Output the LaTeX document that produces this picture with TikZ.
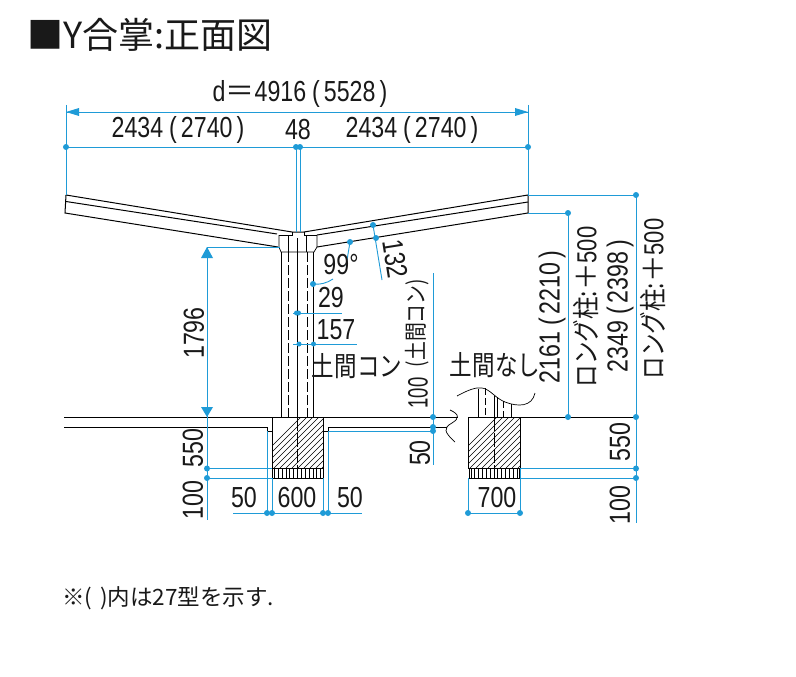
\documentclass[tikz,border=0pt]{standalone}
\usepackage{fontspec}
\setmainfont{Liberation Sans}
\newfontfamily\numf[FakeStretch=0.8]{Liberation Sans}
\newfontfamily\numn[FakeStretch=0.66]{Liberation Sans}
\newfontfamily\jpn{Noto Sans CJK JP}
\newfontfamily\jpc[FakeStretch=0.82]{Noto Sans CJK JP}
\definecolor{dimblue}{HTML}{1F9BD7}
\tikzset{
  dim/.style={draw=dimblue,line width=0.9pt},
  part/.style={draw=black,line width=1pt},
  thin part/.style={draw=black,line width=0.7pt},
  dots/.style={fill=dimblue,draw=none,circle,minimum size=6pt,inner sep=0pt},
  lbl/.style={inner sep=0pt,font=\numf\fontsize{29}{29}\selectfont,text=black!90},
  lblv/.style={lbl,rotate=90},
  jp/.style={inner sep=0pt,font=\jpc\fontsize{27.5}{27.5}\selectfont,text=black!90},
  jpv/.style={jp,rotate=90},
  arrowtri/.style={fill=dimblue,draw=none}
}
\newcommand{\pl}[1]{\hspace{6pt}(\hspace{4pt}#1\hspace{4pt})}
\begin{document}
\begin{tikzpicture}[x=1pt,y=-1pt]
\useasboundingbox (0,0) rectangle (796,677);
\fill[white] (0,0) rectangle (796,677);
% coordinates
\foreach \n/\x/\y in {dl/66/112,dr/528/112,el/66/195,er/528/195,rl/66/147,rr/528/147,c1/296/147,c2/300/147,c1b/296/232,c2b/300/232,
 al/207/247,ab/207/417,abe/207/520,atr/280/247,d1/207/468.5,d2/207/478,d1r/272/468.5,d2r/272/478,
 t29a/293/313,t29b/342/313,t157a/293/344,t157b/357/344,
 bl/233/513,br/362/513,b1/267/513,b2/272/513,b3/323/513,b4/328/513,b1t/267/431,b2t/272/417,b3t/323/417,b4t/328/431,
 vt/433/273,vb/433/465,g1/433/417,g2/433/431,r1/520/468.5,r2/520/478,
 s1/636/468.5,s2/636/478,st/636/195,sb/636/523,sg/636/417,m1/568/213,m2/568/417,mr/528/213,gr/528/417,
 p1/468/513,p2/520/513,p1t/468/478,p2t/520/468.5,
 ang1/350/242,ang2/313/284,ang1e/346/266,ang2e/333/279,k1/373/225,k2/376/238,k3/382/280}{\coordinate (\n) at (\x,\y);}
% ---- structure
\draw[part] (66,195) -- (292,232) -- (304,232) -- (528,195) -- (528,213) -- (317,247);
\draw[part] (66,201.5) -- (277,234);
\draw[part] (317,235) -- (528,202);
\draw[part] (66,195) -- (65,213) -- (278,247);
% bracket
\draw[thin part] (279,235) -- (279,247) -- (281,252) -- (314,252) -- (317,247) -- (317,235);
\draw[thin part] (279,235) -- (292,235) -- (292,232);
\draw[thin part] (304,232) -- (304,235) -- (317,235);
\draw[thin part] (288,235) -- (288,252);
\draw[thin part] (306,235) -- (306,252);
% column
\draw[thin part] (281,252) -- (281,417);
\draw[thin part] (313.5,252) -- (313.5,417);
\draw[thin part,dash pattern=on 10pt off 3pt] (288,252) -- (288,417);
\draw[thin part,dash pattern=on 10pt off 3pt] (307,252) -- (307,417);
\draw[black,line width=1.8pt] (297.5,238) -- (297.5,417);
% ground
\draw[part] (64,417) -- (458,417);
\draw[part] (64,427) -- (267,427);
\draw[part] (328,427) -- (447,427);
\draw[part] (468,417) -- (636,417);
% break line
\draw[thin part] (450,410) .. controls (459,414) and (460,418) .. (452,423) .. controls (443,428) and (444,432) .. (455,442);
% foundation left
\begin{scope}
\clip (272,417) rectangle (323,468);
\foreach \i in {0,6,...,110}{\draw[black,line width=0.4pt] (250+\i,468) -- ++(60,-60);}
\end{scope}
\draw[part] (272,417) -- (272,478) -- (323,478) -- (323,417);
\draw[part] (272,468) -- (323,468);
\draw[thin part] (267,427) -- (267,431) -- (272,431);
\draw[thin part] (328,427) -- (328,431) -- (323,431);
\draw[thin part,dash pattern=on 14pt off 2pt] (297.5,417) -- (297.5,480);
\foreach \i in {0,1,...,12}{\draw[black,line width=1pt] (274.5+\i*3.85,469) -- ++(0,9);}
% foundation right
\begin{scope}
\clip (468,417) rectangle (520,468);
\foreach \i in {0,6,...,110}{\draw[black,line width=0.4pt] (446+\i,468) -- ++(60,-60);}
\end{scope}
\draw[part] (468,417) -- (468,468) -- (520,468) -- (520,417);
\draw[part] (469.5,468) -- (469.5,478) -- (519,478) -- (519,468);
\draw[thin part,dash pattern=on 14pt off 2pt] (494.5,417) -- (494.5,478);
\foreach \i in {0,1,...,12}{\draw[black,line width=1pt] (471+\i*3.85,469) -- ++(0,9);}
% stub column, cut by a curved line
\draw[thin part] (457,396) .. controls (468,390) and (476,387) .. (482,388) .. controls (490,389) and (495,398) .. (505,402) .. controls (518,407) and (532,407) .. (535,393);
\draw[thin part] (478,389) -- (478,417);
\draw[thin part,dash pattern=on 7pt off 3pt] (485,388) -- (485,417);
\draw[black,line width=1.5pt] (494.5,396) -- (494.5,417);
\draw[thin part] (497,397) -- (497,417);
\draw[thin part,dash pattern=on 7pt off 3pt] (503,401) -- (503,417);
\draw[thin part] (511,404) -- (511,417);
% ---- dimensions
\draw[dim] (dl) -- (dr);
\draw[dim] (66,105) -- (el);
\draw[dim] (528,105) -- (er);
\draw[dim] (rl) -- (rr);
\draw[dim] (c1) -- (c1b);
\draw[dim] (c2) -- (c2b);
\fill[arrowtri] (66,112) -- (79,108) -- (79,116) -- cycle;
\fill[arrowtri] (528,112) -- (515,108) -- (515,116) -- cycle;
\foreach \c in {rl,c1,c2,rr}{\node[dots] at (\c) {};}
\draw[dim] (al) -- (abe);
\draw[dim] (al) -- (atr);
\fill[arrowtri] (207,247) -- (201,258) -- (213,258) -- cycle;
\fill[arrowtri] (207,417) -- (201,407) -- (213,407) -- cycle;
\draw[dim] (d1) -- (d1r);
\draw[dim] (d2) -- (d2r);
\node[dots] at (d1) {};
\node[dots] at (d2) {};
\draw[dim] (t29a) -- (t29b);
\node[dots,minimum size=5pt] at (296.5,313) {};
\node[dots,minimum size=5pt] at (298.5,313) {};
\draw[dim] (t157a) -- (t157b);
\node[dots,minimum size=5pt] at (299,344) {};
\node[dots,minimum size=5pt] at (313.5,344) {};
% angle
\draw[dim] (ang1) -- (ang1e);
\draw[dim] (ang2) .. controls (320,285) and (327,283) .. (ang2e);
\node[dots] at (ang1) {};
\node[dots] at (ang2) {};
% 132
\draw[dim] (k1) -- (k3);
\node[dots] at (k1) {};
\node[dots] at (k2) {};
% bottom left
\draw[dim] (bl) -- (br);
\draw[dim] (b1) -- (b1t);
\draw[dim] (b2) -- (272,478);
\draw[dim] (b3) -- (323,478);
\draw[dim] (b4) -- (b4t);
\foreach \c in {b1,b2,b3,b4}{\node[dots] at (\c) {};}
% right of the slab
\draw[dim] (b4t) -- (g2);
\draw[dim] (vt) -- (vb);
\node[dots] at (g1) {};
\node[dots] at (433,427) {};
\node[dots] at (g2) {};
% bottom right
\draw[dim] (p1) -- (p2);
\draw[dim] (p1) -- (p1t);
\draw[dim] (p2) -- (p2t);
\node[dots] at (p1) {};
\node[dots] at (p2) {};
\draw[dim] (r1) -- (s1);
\draw[dim] (r2) -- (s2);
\draw[dim] (er) -- (st);
\draw[dim] (st) -- (sb);
\draw[dim] (mr) -- (m1);
\draw[dim] (m1) -- (m2);
\foreach \c in {st,s1,s2,sg,m1,m2}{\node[dots] at (\c) {};}
% ---- text
\node[anchor=west,inner sep=0pt,font=\jpn\fontsize{36}{36}\selectfont,text=black!90] (title) at (27,35) {■Y合掌:正面図};
\node[lbl] (td) at (300,94) {d{\jpn＝}4916\pl{5528}};
\node[lbl] (ta) at (178,130) {2434\pl{2740}};
\node[lbl] (tm) at (298,130) {48};
\node[lbl] (tb) at (412,130) {2434\pl{2740}};
\node[lblv] (t1796) at (194,333) {1796};
\node[lbl] (t99) at (341,265) {99°};
\node[lbl] (t29) at (331,298) {29};
\node[lbl] (t157) at (336,330) {157};
\node[jp] (tcon) at (357,366) {土間コン};
\node[lbl,rotate=-81] (t132) at (395,259) {132};
\node[jpv,font=\jpc\fontsize{23}{23}\selectfont] (tcon2) at (417,323) {(土間コン)};
\node[lblv,font=\numn\fontsize{28}{28}\selectfont] (t100a) at (418,393) {100};
\node[lblv] (t50a) at (420,453) {50};
\node[lblv] (t550a) at (193,448) {550};
\node[lblv] (t100b) at (193,500) {100};
\node[lbl] (t50l) at (244,498) {50};
\node[lbl] (t600) at (297,498) {600};
\node[lbl] (t50r) at (350,498) {50};
\node[lbl] (t700) at (497,498) {700};
\node[jp] (tnone) at (495,365) {土間なし};
\node[lblv] (t2161) at (552,317) {2161\pl{2210}};
\node[jpv] (tl1) at (586,307) {ロング柱:{\jpn＋}{\numf 500}};
\node[lblv] (t2349) at (620,306) {2349\pl{2398}};
\node[jpv] (tl2) at (653,299) {ロング柱:{\jpn＋}{\numf 500}};
\node[lblv] (t550b) at (620,442) {550};
\node[lblv] (t100c) at (620,505) {100};
\node[anchor=west,inner sep=0pt,font=\jpn\fontsize{22.5}{22.5}\selectfont,text=black!90] (note) at (62,598) {※(\hspace{8pt})内は27型を示す.};
\end{tikzpicture}
\end{document}
